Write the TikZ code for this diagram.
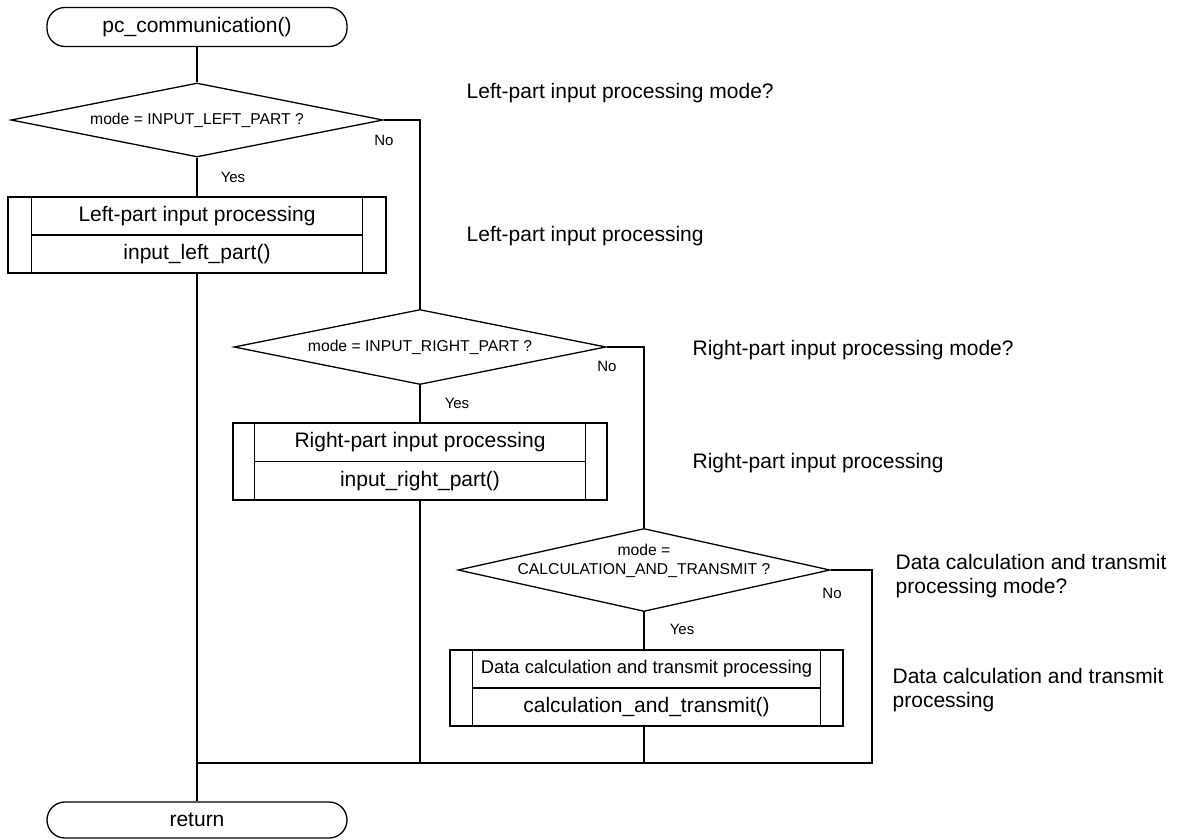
\documentclass[tikz,border=0pt]{standalone}
\usepackage{fontspec}
\setmainfont{Liberation Sans}
\usetikzlibrary{shapes.geometric}
\begin{document}
\begin{tikzpicture}[x=1pt,y=-1pt,
  every path/.style={line width=1.3pt},
  terminal/.style={draw, rectangle, rounded corners=18pt, minimum width=300pt,
    minimum height=39pt, inner sep=0pt, font=\fontsize{21}{24}\selectfont},
  decision/.style={draw, diamond, inner sep=0pt, minimum width=372pt},
  dtext/.style={inner sep=0pt, align=center, font=\fontsize{15.7}{18.5}\selectfont},
  procbox/.style={draw, rectangle, inner sep=0pt},
  btext/.style={inner sep=0pt, font=\fontsize{21}{24}\selectfont},
  yn/.style={inner sep=0pt, font=\fontsize{15}{18}\selectfont},
  note/.style={anchor=west, inner sep=0pt, align=left,
    font=\fontsize{21}{24.5}\selectfont}]
\useasboundingbox (0,0) rectangle (1179,839);

% start and end
\node[terminal] (start) at (197,27) {pc\_communication()};
\node[terminal, minimum height=36pt] (ret) at (197,820) {return};

% first branch
\node[decision, minimum height=74pt] (d1) at (197,120) {};
\node[dtext] (d1t) at (d1) {mode = INPUT\_LEFT\_PART ?};
\node[procbox, minimum width=378pt, minimum height=76pt] (p1) at (197,235) {};
\draw ([xshift=24pt]p1.north west) -- ([xshift=24pt]p1.south west);
\draw ([xshift=-24pt]p1.north east) -- ([xshift=-24pt]p1.south east);
\draw ([xshift=24pt]p1.west) -- ([xshift=-24pt]p1.east);
\node[btext] (p1a) at (197,216) {Left-part input processing};
\node[btext] (p1b) at (197,254) {input\_left\_part()};

% second branch
\node[decision, minimum height=75pt] (d2) at (420,347) {};
\node[dtext] (d2t) at (d2) {mode = INPUT\_RIGHT\_PART ?};
\node[procbox, minimum width=374pt, minimum height=77pt] (p2) at (420,461.5) {};
\draw ([xshift=22pt]p2.north west) -- ([xshift=22pt]p2.south west);
\draw ([xshift=-22pt]p2.north east) -- ([xshift=-22pt]p2.south east);
\draw ([xshift=22pt]p2.west) -- ([xshift=-22pt]p2.east);
\node[btext] (p2a) at (420,442) {Right-part input processing};
\node[btext] (p2b) at (420,481) {input\_right\_part()};

% third branch
\node[decision, minimum height=83pt] (d3) at (644,570) {};
\node[dtext] (d3t) at (644,561) {mode =\\CALCULATION\_AND\_TRANSMIT ?};
\node[procbox, minimum width=393pt, minimum height=76pt] (p3) at (646.5,688) {};
\draw ([xshift=23pt]p3.north west) -- ([xshift=23pt]p3.south west);
\draw ([xshift=-23pt]p3.north east) -- ([xshift=-23pt]p3.south east);
\draw ([xshift=23pt]p3.west) -- ([xshift=-23pt]p3.east);
\node[btext, font=\fontsize{18.4}{21}\selectfont] (p3a) at (646.5,669) {Data calculation and transmit processing};
\node[btext] (p3b) at (646.5,707) {calculation\_and\_transmit()};

% merge points
\coordinate (m2) at (420,763);
\coordinate (m3) at (644,763);
\coordinate (m4) at (872,763);
\coordinate (m1) at (197,763);

% connectors
\draw (start) -- (d1);
\draw (d1) -- (p1);
\draw (p1) -- (ret);
\draw (d1.east) -| (d2.north);
\draw (d2) -- (p2);
\draw (p2) -- (m2);
\draw (d2.east) -| (d3.north);
\draw (d3.south) -- (d3.south |- p3.north);
\draw (p3.south -| m3) -- (m3);
\draw (d3.east) -| (m4) -- (m1);

% branch labels
\node[yn] (no1) at (384,140) {No};
\node[yn] (yes1) at (233,177) {Yes};
\node[yn] (no2) at (607,366) {No};
\node[yn] (yes2) at (457,403) {Yes};
\node[yn] (no3) at (832,593) {No};
\node[yn] (yes3) at (682,629) {Yes};

% side notes
\node[note] (n1) at (466,93) {Left-part input processing mode?};
\node[note] (n2) at (466,236) {Left-part input processing};
\node[note] (n3) at (692,350) {Right-part input processing mode?};
\node[note] (n4) at (692,463) {Right-part input processing};
\node[note] (n5) at (895,576) {Data calculation and transmit\\processing mode?};
\node[note] (n6) at (892,690) {Data calculation and transmit\\processing};
\end{tikzpicture}
\end{document}
